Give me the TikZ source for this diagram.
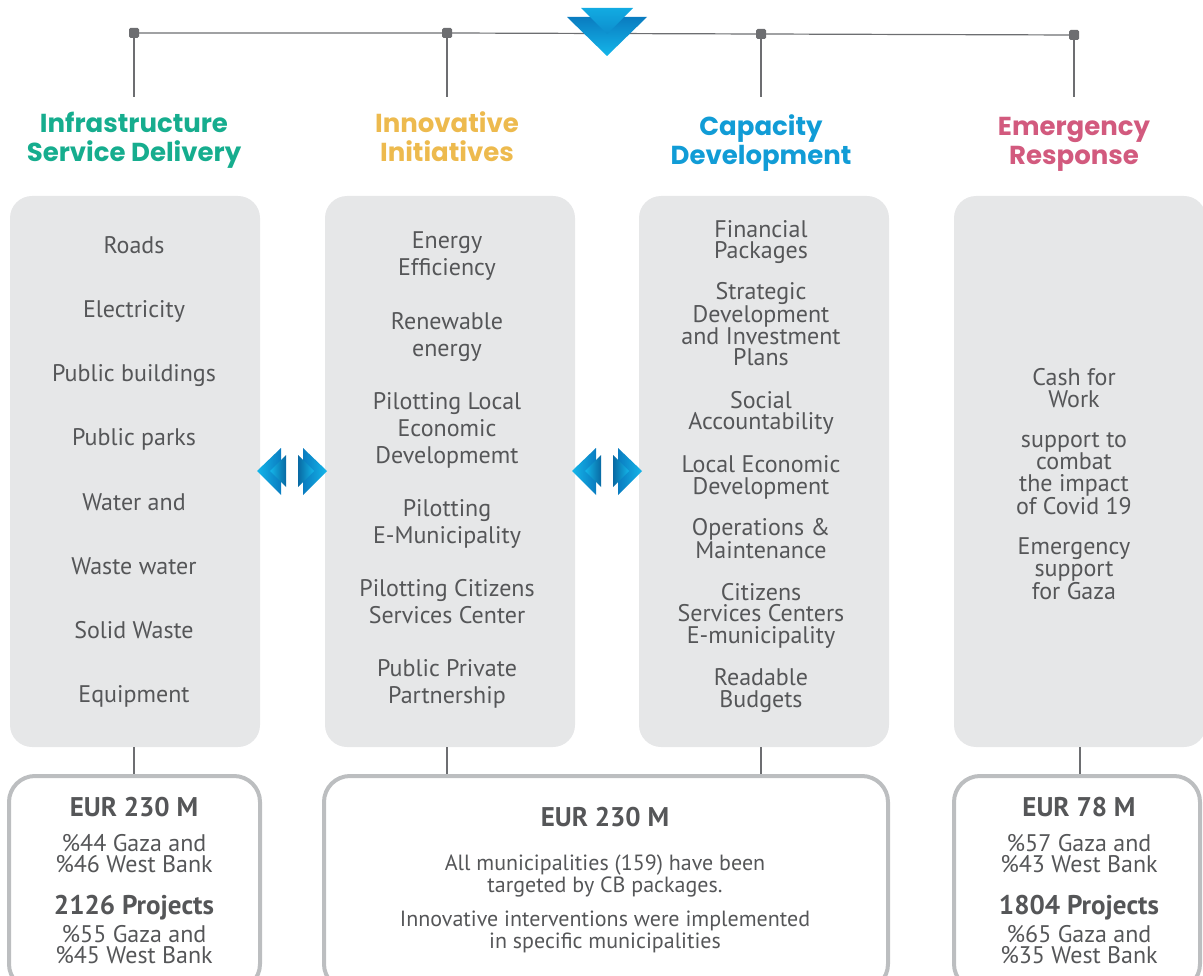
\documentclass[tikz,border=0pt]{standalone}
\usepackage{fontspec}
\setmainfont{PT Sans}
\newfontfamily\headfont{Poppins}
\definecolor{panelgray}{HTML}{E6E7E8}
\definecolor{boxgray}{HTML}{BCBEC0}
\definecolor{linegray}{HTML}{6D6E71}
\definecolor{txt}{HTML}{555658}
\definecolor{cinfra}{HTML}{16AD8E}
\definecolor{cinno}{HTML}{EDBA4E}
\definecolor{ccap}{HTML}{119CD6}
\definecolor{cemer}{HTML}{D25A7E}
\definecolor{bluelight}{HTML}{14B6EA}
\definecolor{bluedark}{HTML}{0A7CC0}
\begin{document}
\begin{tikzpicture}[x=1pt,y=-1pt,
  panel/.style={fill=panelgray, rounded corners=22pt, inner sep=0},
  total/.style={draw=boxgray, line width=4pt, rounded corners=26pt, inner sep=0},
  item/.style={font=\fontsize{24}{27}\selectfont, text=txt, align=center, anchor=base, inner sep=0},
  titem/.style={item, font=\fontsize{24}{21.3}\selectfont},
  bitem/.style={item, font=\fontsize{24}{21}\selectfont},
  mitem/.style={item, font=\fontsize{22}{22}\selectfont},
  bold/.style={item, font=\bfseries\fontsize{27}{27}\selectfont},
  head/.style={font=\headfont\bfseries\fontsize{26}{29}\selectfont, align=center, anchor=base, inner sep=0},
  sq/.style={fill=linegray, minimum size=10pt, inner sep=0, rounded corners=1.5pt},
  conn/.style={draw=linegray, line width=1.2pt}]
\useasboundingbox (0,0) rectangle (1203,976);
\clip (0,0) rectangle (1203,976);

% top line with squares
\node[sq] (s1) at (134,33) {};
\node[sq] (s2) at (447,33) {};
\node[sq] (s3) at (761,34) {};
\node[sq] (s4) at (1074,35) {};
\coordinate (v1) at (134,97);
\coordinate (v2) at (447,97);
\coordinate (v3) at (761,97);
\coordinate (v4) at (1074,97);
\draw[conn] (s1) -- (s2) -- (s3) -- (s4);
\draw[conn] (s1) -- (v1);
\draw[conn] (s2) -- (v2);
\draw[conn, line width=2pt] (s3) -- (v3);
\draw[conn, line width=2pt] (s4) -- (v4);

% chevron
\shade[top color=bluedark, bottom color=bluelight] (567,17) -- (647,17) -- (607,56) -- cycle;
\shade[top color=bluelight!80!bluedark, bottom color=bluedark!70!bluelight] (581,8) -- (633,8) -- (607,34) -- cycle;

% headers (anchor base = baseline of last line)
\node[head, text=cinfra] (h1) at (134,162) {Infrastructure\\Service Delivery};
\node[head, text=cinno] (h2) at (447,162) {Innovative\\Initiatives};
\node[head, text=ccap] (h3) at (761,165) {Capacity\\Development};
\node[head, text=cemer] (h4) at (1074,165) {Emergency\\Response};

% panels
\node[panel, minimum width=250, minimum height=551] (p1) at (135,471.5) {};
\node[panel, minimum width=250, minimum height=551] (p2) at (450,471.5) {};
\node[panel, minimum width=250, minimum height=551] (p3) at (764,471.5) {};
\node[panel, minimum width=252, minimum height=551] (p4) at (1080,471.5) {};

% double arrows
\foreach \cx in {292, 607} {
  \shade[left color=bluelight, right color=bluedark] (\cx-35,471) -- (\cx-11,448) -- (\cx-11,495) -- cycle;
  \shade[left color=bluelight, right color=bluedark!85!black] (\cx-22,471) -- (\cx-6,455) -- (\cx-6,487) -- cycle;
  \shade[left color=bluedark, right color=bluelight] (\cx+35,471) -- (\cx+11,448) -- (\cx+11,495) -- cycle;
  \shade[left color=bluedark!85!black, right color=bluelight] (\cx+22,471) -- (\cx+6,455) -- (\cx+6,487) -- cycle;
}

% column 1
\node[item] (a1) at (134,254) {Roads};
\node[item] (a2) at (134,318) {Electricity};
\node[item] (a3) at (134,382) {Public buildings};
\node[item] (a4) at (134,446) {Public parks};
\node[item] (a5) at (134,510) {Water and};
\node[item] (a6) at (134,574) {Waste water};
\node[item] (a7) at (134,638) {Solid Waste};
\node[item] (a8) at (134,702) {Equipment};

% column 2
\node[item] (b1) at (447,276) {Energy\\Efficiency};
\node[item] (b2) at (447,357) {Renewable\\energy};
\node[item] (b3) at (447,463) {Pilotting Local\\Economic\\Developmemt};
\node[item] (b4) at (447,543) {Pilotting\\E-Municipality};
\node[item] (b5) at (447,623) {Pilotting Citizens\\Services Center};
\node[item] (b6) at (447,703) {Public Private\\Partnership};

% column 3
\node[titem] (c1) at (761,259) {Financial\\Packages};
\node[titem] (c2) at (761,366) {Strategic\\Development\\and Investment\\Plans};
\node[titem] (c3) at (761,430) {Social\\Accountability};
\node[titem] (c4) at (761,494) {Local Economic\\Development};
\node[titem] (c5) at (761,558) {Operations \&\\Maintenance};
\node[titem] (c6) at (761,643) {Citizens\\Services Centers\\E-municipality};
\node[titem] (c7) at (761,707) {Readable\\Budgets};

% column 4
\node[titem] (d1) at (1074,407) {Cash for\\Work};
\node[titem] (d2) at (1074,514) {support to\\combat\\the impact\\of Covid 19};
\node[titem] (d3) at (1074,599) {Emergency\\support\\for Gaza};

% totals
\node[total, minimum width=251, minimum height=214] (t1) at (134.5,883) {};
\node[total, minimum width=564, minimum height=214] (t2) at (606,883) {};
\node[total, minimum width=246, minimum height=214] (t4) at (1077,883) {};

\draw[conn] (p1.south -| a1) -- (t1.north -| a1);
\draw[conn] (p2.south -| b1) -- (t2.north -| b1);
\draw[conn] (p3.south -| c1) -- (t2.north -| c1);
\draw[conn] (p4.south) -- (p4.south |- t4.north);

\node[bold] (e1) at (134,816) {EUR 230 M};
\node[bitem] (e2) at (134,872) {\%44 Gaza and\\\%46 West Bank};
\node[bold] (e3) at (134,914) {2126 Projects};
\node[bitem] (e4) at (134,963) {\%55 Gaza and\\\%45 West Bank};

\node[bold] (f1) at (605,826) {EUR 230 M};
\node[mitem] (f2) at (605,892) {All municipalities (159) have been\\targeted by CB packages.};
\node[mitem] (f3) at (605,948) {Innovative interventions were implemented\\in specific municipalities};

\node[bold] (g1) at (1079,816) {EUR 78 M};
\node[bitem] (g2) at (1079,872) {\%57 Gaza and\\\%43 West Bank};
\node[bold] (g3) at (1079,914) {1804 Projects};
\node[bitem] (g4) at (1079,963) {\%65 Gaza and\\\%35 West Bank};
\end{tikzpicture}
\end{document}
